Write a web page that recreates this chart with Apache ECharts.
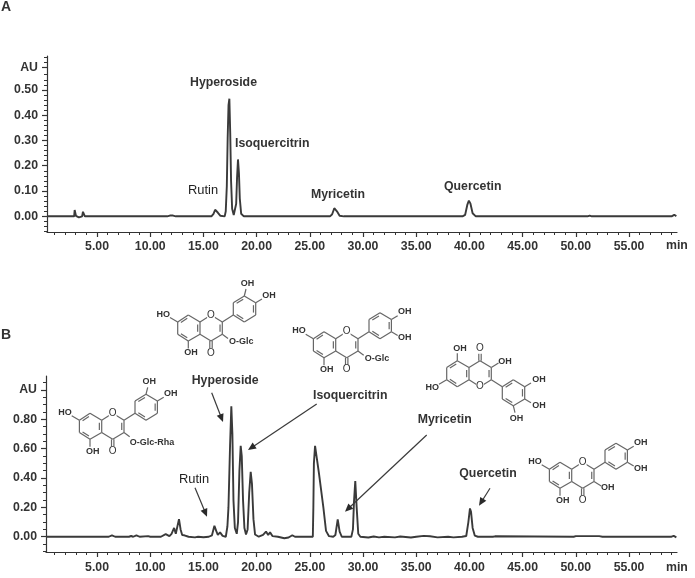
<!DOCTYPE html>
<html>
<head>
<meta charset="utf-8">
<title>HPLC chromatograms</title>
<script src="https://cdn.jsdelivr.net/npm/echarts@6/dist/echarts.min.js"></script>
<style>
  html, body { margin: 0; padding: 0; background: #fff; }
  #chart { width: 695px; height: 578px; }
</style>
</head>
<body>
<div id="chart"></div>
<script>
// panel A trace, retention time (min) and absorbance (AU)
const timeA = [0.3, 2.85, 2.9, 2.95, 3.02, 3.1, 3.3, 3.6, 3.68, 3.72, 3.8, 3.86, 4.0, 11.6, 11.85, 12.0, 12.15, 12.4,
  15.75, 15.95, 16.1, 16.2, 16.35, 16.6, 17.0, 17.1, 17.2, 17.28, 17.36, 17.44, 17.52, 17.6, 17.7, 17.85, 18.0, 18.08, 18.16, 18.25, 18.34, 18.42, 18.55, 18.8,
  26.9, 27.1, 27.3, 27.4, 27.55, 27.8, 28.2,
  39.35, 39.6, 39.8, 39.95, 40.1, 40.3, 40.6, 51.1, 51.3, 51.5, 59.0, 59.25, 59.45];
const valueA = [0, 0, 0.025, 0.024, 0.002, -0.005, -0.004, 0, 0.018, 0.017, 0.012, 0, 0, 0, 0.003, 0.006, 0.003, 0,
  0, 0.01, 0.026, 0.028, 0.015, 0.002, 0, 0.02, 0.12, 0.31, 0.44, 0.465, 0.33, 0.14, 0.03, 0.005, 0.01, 0.05, 0.15, 0.225, 0.17, 0.07, 0.01, 0,
  0, 0.008, 0.032, 0.035, 0.02, 0.002, 0,
  0, 0.006, 0.045, 0.062, 0.05, 0.012, 0, 0, 0.003, 0, 0, 0.006, 0.001];

// panel B trace
const timeB = [0.2, 6.1, 6.4, 6.7, 8.0, 8.2, 8.4, 8.7, 9.0, 9.8, 10.0, 11.0, 11.45, 11.8, 12.0, 12.24, 12.4, 12.5, 12.7, 12.85, 13.0, 13.2, 13.6, 14.2, 14.5, 15.0, 15.5,
  15.8, 16.03, 16.2, 16.35, 16.56, 16.8, 17.1, 17.25, 17.35, 17.5, 17.62, 17.72, 17.82, 17.95, 18.13, 18.25, 18.38, 18.5, 18.6, 18.72, 18.85, 19.0, 19.15, 19.3, 19.44, 19.56, 19.7, 19.85, 20.2, 20.6, 20.88, 21.08, 21.26, 21.5, 22.0,
  22.6, 23.0, 23.35, 23.6, 25.28, 25.33, 25.38, 25.49, 25.86, 26.27, 26.52, 26.8, 27.2, 27.4, 27.62, 27.8, 28.0, 28.9, 29.05, 29.15, 29.27, 29.4, 29.55, 29.75,
  30.5, 31.0, 31.5, 32.0, 33.0, 33.5, 34.5, 35.0, 35.7, 36.3, 37.0, 38.0, 38.5, 39.3, 39.7, 39.9, 40.05, 40.15, 40.3, 40.5, 40.8, 42.2, 42.4, 49.8, 50.0, 52.2, 52.5, 59.0, 59.2, 59.45];
const valueB = [0, 0, 0.01, 0, 0, 0.005, 0, 0.01, 0, 0.004, 0, 0, 0.018, 0.004, 0.02, 0.06, 0.02, 0.03, 0.12, 0.05, 0.012, 0.01, 0, -0.004, 0, -0.003, 0,
  0.01, 0.075, 0.04, 0.012, 0.03, 0.006, 0, 0.07, 0.2, 0.62, 0.89, 0.7, 0.25, 0.06, 0.02, 0.1, 0.45, 0.62, 0.55, 0.25, 0.06, 0.015, 0.05, 0.3, 0.443, 0.36, 0.12, 0.015, 0, 0.012, 0.035, 0.012, 0.03, 0.004, 0,
  -0.01, -0.005, 0.01, 0, 0, 0.2, 0.5, 0.62, 0.43, 0.2, 0.04, 0.004, 0, 0.012, 0.118, 0.035, 0, 0, 0.05, 0.24, 0.38, 0.2, 0.02, 0,
  -0.005, 0.002, -0.004, 0, -0.004, 0.002, -0.005, 0, 0.006, 0.003, -0.004, 0, -0.004, 0, 0.005, 0.1, 0.193, 0.17, 0.06, 0.008, 0, 0, 0.003, 0, 0.004, 0.004, 0, 0, 0.006, -0.004];

// axis ticks
const xMajorTicks = [5, 10, 15, 20, 25, 30, 35, 40, 45, 50, 55];
const xMinorTicks = [1, 2, 3, 4, 6, 7, 8, 9, 11, 12, 13, 14, 16, 17, 18, 19, 21, 22, 23, 24, 26, 27, 28, 29, 31, 32, 33, 34, 36, 37, 38, 39, 41, 42, 43, 44, 46, 47, 48, 49, 51, 52, 53, 54, 56, 57, 58, 59];
const yMajorA = [0, 0.1, 0.2, 0.3, 0.4, 0.5, 0.59];
const yMinorA = [-0.06, -0.04, -0.02, 0.02, 0.04, 0.06, 0.08, 0.12, 0.14, 0.16, 0.18, 0.22, 0.24, 0.26, 0.28, 0.32, 0.34, 0.36, 0.38, 0.42, 0.44, 0.46, 0.48, 0.52, 0.54, 0.56, 0.61, 0.63];
const yMajorB = [0, 0.2, 0.4, 0.6, 0.8, 1.0];
const yMinorB = [-0.1, -0.05, 0.05, 0.1, 0.15, 0.25, 0.3, 0.35, 0.45, 0.5, 0.55, 0.65, 0.7, 0.75, 0.85, 0.9, 0.95, 1.05];

const INK = '#333';
const FONT = '"Liberation Sans", Arial, sans-serif';

const zip = (xs, ys) => xs.map((x, i) => [x, ys[i]]);

// value axis with the big ticks and the labels
const xAxisMain = (gridIndex, min, max, margin) => ({
  type: 'value', gridIndex, min, max, position: 'bottom',
  splitLine: {show: false},
  axisLine: {onZero: false, lineStyle: {color: INK, width: 1.2}},
  axisTick: {length: 5, customValues: xMajorTicks, lineStyle: {color: INK, width: 1.2}},
  axisLabel: {
    customValues: xMajorTicks, margin, color: INK, fontFamily: FONT, fontSize: 12.3, fontWeight: 'bold',
    formatter: v => v.toFixed(2)
  }
})
// second axis only draws the small ticks
const xAxisMinor = (gridIndex, min, max) => ({
  type: 'value', gridIndex, min, max, position: 'bottom',
  splitLine: {show: false},
  axisLine: {show: false, onZero: false},
  axisTick: {length: 3, customValues: xMinorTicks, lineStyle: {color: INK, width: 1}},
  axisLabel: {show: false}
})
const yAxisMain = (gridIndex, min, max, ticks, top) => ({
  type: 'value', gridIndex, min, max, position: 'left',
  splitLine: {show: false},
  axisLine: {onZero: false, lineStyle: {color: INK, width: 1.2}},
  axisTick: {length: 5, customValues: ticks, lineStyle: {color: INK, width: 1.2}},
  axisLabel: {
    customValues: ticks, margin: 9, color: INK, fontFamily: FONT, fontSize: 12.3, fontWeight: 'bold',
    formatter: v => (v === top ? 'AU' : v.toFixed(2))
  }
})
const yAxisMinor = (gridIndex, min, max, ticks) => ({
  type: 'value', gridIndex, min, max, position: 'left',
  splitLine: {show: false},
  axisLine: {show: false, onZero: false},
  axisTick: {length: 3, customValues: ticks, lineStyle: {color: INK, width: 1}},
  axisLabel: {show: false}
})

const trace = (xAxisIndex, yAxisIndex, data) => ({
  type: 'line', xAxisIndex, yAxisIndex, data, showSymbol: false, smooth: false, silent: true,
  lineStyle: {color: '#3a3a3a', width: 1.9}
})

// annotations
const elements = []
const label = (text, x, y, weight = 'bold', size = 12.3) => {
  elements.push({
    type: 'text', x, y, z: 20,
    style: {text, fill: weight === 'bold' ? INK : '#222', font: `${weight} ${size}px ${FONT}`, align: 'left', verticalAlign: 'middle'}
  })
}
const bond = (x1, y1, x2, y2, color = '#666', lineWidth = 1.2) => {
  elements.push({type: 'line', z: 10, shape: {x1, y1, x2, y2}, style: {stroke: color, lineWidth}})
}
const arrow = (x1, y1, x2, y2) => {
  const len = Math.hypot(x2 - x1, y2 - y1)
  const ux = (x2 - x1) / len
  const uy = (y2 - y1) / len
  bond(x1, y1, x2 - ux * 5, y2 - uy * 5, '#3a3a3a', 1.2)
  elements.push({
    type: 'polygon', z: 11,
    shape: {points: [[x2, y2], [x2 - ux * 8 - uy * 3.6, y2 - uy * 8 + ux * 3.6], [x2 - ux * 8 + uy * 3.6, y2 - uy * 8 - ux * 3.6]]},
    style: {fill: '#2a2a2a'}
  })
}

// flavonoid skeleton, px relative to the ring oxygen
const ATOMS = {
  O: [0, 0], C8a: [-11, 7], C4a: [-11, 19.3], C8: [-22.7, 0], C7: [-33.3, 7], C6: [-33.3, 19.3], C5: [-22.7, 26],
  C4: [0, 26], C3: [11.3, 19.3], C2: [11.3, 7], C1b: [22.3, 0], C2b: [22.3, -12.3], C3b: [33.3, -19], C4b: [44.7, -12.3], C5b: [44.7, 0], C6b: [33.3, 7]
}
const BONDS = [['O', 'C8a'], ['C8a', 'C4a'], ['C8a', 'C8'], ['C8', 'C7'], ['C7', 'C6'], ['C6', 'C5'], ['C5', 'C4a'], ['C4a', 'C4'], ['C4', 'C3'], ['C3', 'C2'], ['C2', 'O'],
  ['C2', 'C1b'], ['C1b', 'C2b'], ['C2b', 'C3b'], ['C3b', 'C4b'], ['C4b', 'C5b'], ['C5b', 'C6b'], ['C6b', 'C1b']]
// double bonds: [from, to, ring centre the inner line leans to]
const RING_A = [-22.7, 13]
const RING_C = [0, 13]
const RING_B = [33.5, -6]
const DOUBLES = [['C8', 'C7', RING_A], ['C6', 'C5', RING_A], ['C8a', 'C4a', RING_A], ['C3', 'C2', RING_C], ['C2b', 'C3b', RING_B], ['C4b', 'C5b', RING_B], ['C6b', 'C1b', RING_B]]

const flavonoid = (ox, oy, flip, subs) => {
  const s = flip ? -1 : 1
  const px = p => [ox + p[0], oy + s * p[1]]
  BONDS.forEach(([a, b]) => {
    const p = px(ATOMS[a])
    const q = px(ATOMS[b])
    bond(p[0], p[1], q[0], q[1])
  })
  DOUBLES.forEach(([a, b, c]) => {
    // inner line pulled a bit towards the ring centre
    const k = 0.2
    const p = ATOMS[a]
    const q = ATOMS[b]
    const p1 = px([p[0] + (c[0] - p[0]) * k + (q[0] - p[0]) * 0.1, p[1] + (c[1] - p[1]) * k + (q[1] - p[1]) * 0.1])
    const q1 = px([q[0] + (c[0] - q[0]) * k - (q[0] - p[0]) * 0.1, q[1] + (c[1] - q[1]) * k - (q[1] - p[1]) * 0.1])
    bond(p1[0], p1[1], q1[0], q1[1])
  })
  // C4=O
  const c4 = px([-1.2, 26])
  const c4e = px([-1.2, 33.5])
  const c4b = px([1.2, 26])
  const c4f = px([1.2, 33.5])
  bond(c4[0], c4[1], c4e[0], c4e[1])
  bond(c4b[0], c4b[1], c4f[0], c4f[1])
  // [atom, bond end x, y, text, text x, y]
  subs.forEach(([atom, bx, by, text, tx, ty, left]) => {
    const p = px(ATOMS[atom])
    const e = px([bx, by])
    bond(p[0], p[1], e[0], e[1])
    const t = px([tx, ty])
    elements.push({
      type: 'text', x: t[0], y: t[1], z: 12,
      style: {text, fill: INK, font: `bold 9px ${FONT}`, align: left ? 'left' : 'center', verticalAlign: 'middle'}
    })
  })
  ;[['O', 0, 0], ['O', 0, 38]].forEach(([text, tx, ty]) => {
    const t = px([tx, ty])
    elements.push({
      type: 'text', x: t[0], y: t[1], z: 13,
      style: {text, fill: INK, backgroundColor: '#fff', font: `10px ${FONT}`, align: 'center', verticalAlign: 'middle'}
    })
  })
}

const HO7 = ['C7', -41, 2.5, 'HO', -47.7, -0.7]
const OH5 = ['C5', -22.7, 33.5, 'OH', -20, 38]
const OH3 = ['C3', 18.5, 23.7, 'OH', 25, 25.5]
const OGLC = ['C3', 17, 23.5, 'O-Glc', 18, 27, true]
const OGLCRHA = ['C3', 17, 23.5, 'O-Glc-Rha', 17, 29, true]
const OH4b = ['C4b', 51, -16, 'OH', 58, -19.7]
const OH5b = ['C5b', 51, 3.7, 'OH', 58, 6]
const OH3b = ['C3b', 35, -26, 'OH', 36.5, -31.7]

flavonoid(112.7, 413.3, false, [HO7, OH5, OGLCRHA, OH3b, OH4b])  // rutin
flavonoid(211, 315, false, [HO7, OH5, OGLC, OH3b, OH4b])          // hyperoside
flavonoid(346.7, 331.7, false, [HO7, OH5, OGLC, OH4b, OH5b])      // isoquercitrin
flavonoid(480, 386.7, true, [HO7, OH5, OH3, OH3b, ['C4b', 51, -16, 'OH', 59, -19.3], ['C5b', 51, 3.7, 'OH', 59, 6.7]])  // myricetin
flavonoid(582.7, 462.3, false, [HO7, OH5, OH3, OH4b, OH5b])       // quercetin

label('A', 1, 7, 'bold', 14)
label('B', 1, 335, 'bold', 14)

label('Hyperoside', 190, 82.3)
label('Isoquercitrin', 235, 143.7)
label('Rutin', 188, 190, 'normal', 12.9)
label('Myricetin', 311, 195)
label('Quercetin', 444, 186.7)
label('min', 666, 246)

label('Hyperoside', 191.7, 380.3)
label('Isoquercitrin', 313, 395.7)
label('Rutin', 179, 479, 'normal', 12.9)
label('Myricetin', 417.7, 419.3)
label('Quercetin', 459.3, 474)
label('min', 666, 567.7)

arrow(211.7, 392.7, 223, 422)
arrow(316.7, 404, 248, 450)
arrow(195, 487.7, 207, 516.7)
arrow(426.7, 435, 345, 511.7)
arrow(490, 488.3, 479, 505.7)

const chart = echarts.init(document.getElementById('chart'), null, {renderer: 'canvas'})
chart.setOption({
  animation: false,
  backgroundColor: '#fff',
  grid: [
    {left: 47, width: 630, top: 56, height: 176},
    {left: 46, width: 631, top: 376, height: 176}
  ],
  xAxis: [
    xAxisMain(0, 0.3, 59.51, 9), xAxisMinor(0, 0.3, 59.51),
    xAxisMain(1, 0.2, 59.51, 10), xAxisMinor(1, 0.2, 59.51)
  ],
  yAxis: [
    yAxisMain(0, -0.062, 0.634, yMajorA, 0.59), yAxisMinor(0, -0.062, 0.634, yMinorA),
    yAxisMain(1, -0.104, 1.096, yMajorB, 1.0), yAxisMinor(1, -0.104, 1.096, yMinorB)
  ],
  series: [
    trace(0, 0, zip(timeA, valueA)),
    trace(2, 2, zip(timeB, valueB))
  ],
  graphic: {elements}
})
</script>
</body>
</html>
